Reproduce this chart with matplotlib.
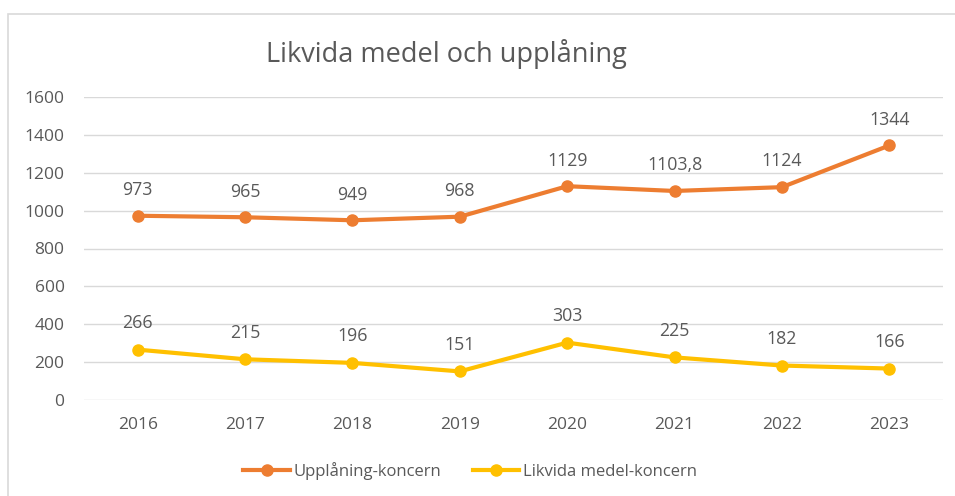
import matplotlib.pyplot as plt
from matplotlib.patches import Rectangle
from matplotlib.lines import Line2D

years = ["2016", "2017", "2018", "2019", "2020", "2021", "2022", "2023"]
upplaning = [973, 965, 949, 968, 1129, 1103.8, 1124, 1344]
likvida = [266, 215, 196, 151, 303, 225, 182, 166]
upplaning_labels = ["973", "965", "949", "968", "1129", "1103,8", "1124", "1344"]
likvida_labels = ["266", "215", "196", "151", "303", "225", "182", "166"]
yticks = [0, 200, 400, 600, 800, 1000, 1200, 1400, 1600]

ORANGE = "#ED7D31"
YELLOW = "#FFC000"
GRID = "#D9D9D9"
TXT = "#595959"

plt.rcParams["font.family"] = ["Open Sans", "DejaVu Sans"]

W, H = 955, 496
fig = plt.figure(figsize=(W / 100, H / 100), dpi=100)
fig.patch.set_facecolor("white")

# chart frame
fig.add_artist(Rectangle((8 / W, -0.05), 1.2, 1 - 14 / H + 0.05, transform=fig.transFigure,
                         fill=False, edgecolor=GRID, linewidth=1.2))

ax = fig.add_axes([84 / W, 1 - 400 / H, (943 - 84) / W, (400 - 97) / H])
x = range(len(years))
ax.set_xlim(-0.5, len(years) - 0.5)
ax.set_ylim(0, 1600)
ax.set_yticks(yticks)
ax.set_yticklabels([str(v) for v in yticks])
ax.set_xticks(list(x))
ax.set_xticklabels(years)
ax.grid(axis="y", color=GRID, linewidth=1)
ax.set_axisbelow(True)
for s in ax.spines.values():
    s.set_visible(False)
ax.tick_params(length=0, colors=TXT, labelsize=12.5)
ax.tick_params(axis="x", pad=12)
ax.tick_params(axis="y", pad=14)

ax.plot(x, upplaning, color=ORANGE, lw=3, marker="o", ms=8, solid_capstyle="round")
ax.plot(x, likvida, color=YELLOW, lw=3, marker="o", ms=8, solid_capstyle="round")

for xi, v, lab in zip(x, upplaning, upplaning_labels):
    ax.annotate(lab, (xi, v), xytext=(0, 18.5), textcoords="offset points",
                ha="center", va="center", color=TXT, fontsize=12.8)
for xi, v, lab in zip(x, likvida, likvida_labels):
    ax.annotate(lab, (xi, v), xytext=(0, 19), textcoords="offset points",
                ha="center", va="center", color=TXT, fontsize=12.8)

fig.text(446 / W, 1 - 54 / H, "Likvida medel och upplåning", ha="center", va="center",
         color=TXT, fontsize=19.5)

handles = [Line2D([], [], color=ORANGE, lw=3, marker="o", ms=8),
           Line2D([], [], color=YELLOW, lw=3, marker="o", ms=8)]
fig.legend(handles, ["Upplåning-koncern", "Likvida medel-koncern"], loc="center",
           bbox_to_anchor=(470 / W, 1 - 471 / H), ncol=2, frameon=False,
           fontsize=12, labelcolor=TXT, handlelength=2.8, handletextpad=0.2,
           columnspacing=1.9)

fig.savefig("out.png", dpi=100)
